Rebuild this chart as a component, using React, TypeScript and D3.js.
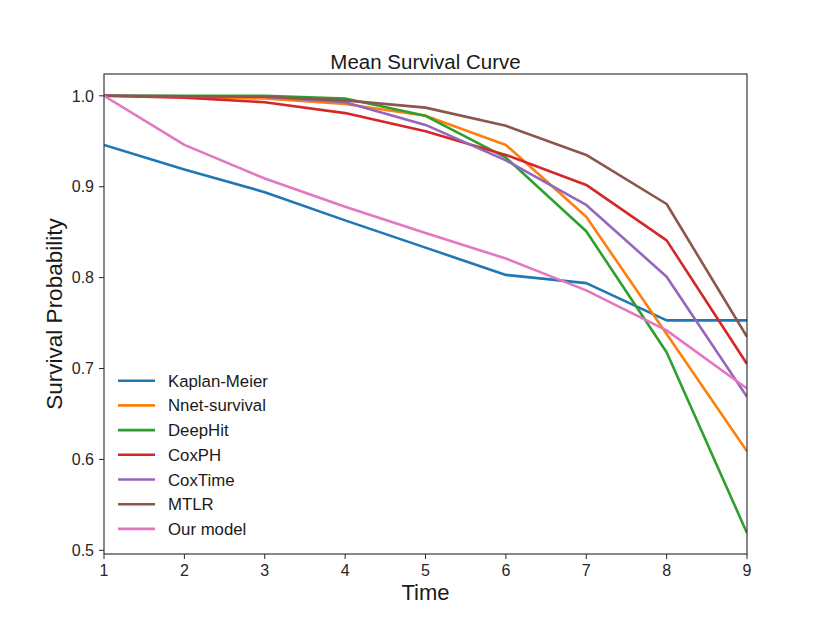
import React from 'react'
import * as d3 from 'd3'

// time points on the x axis
const times = [1, 2, 3, 4, 5, 6, 7, 8, 9]

const kaplanMeier = [0.946, 0.919, 0.894, 0.863, 0.833, 0.803, 0.794, 0.753, 0.753]
const nnetSurvival = [1.0, 0.999, 0.997, 0.991, 0.978, 0.946, 0.867, 0.738, 0.609]
const deepHit = [1.0, 1.0, 1.0, 0.997, 0.978, 0.932, 0.851, 0.718, 0.519]
const coxPH = [1.0, 0.998, 0.993, 0.981, 0.961, 0.935, 0.902, 0.841, 0.705]
const coxTime = [1.0, 0.9995, 0.999, 0.993, 0.968, 0.929, 0.88, 0.801, 0.669]
const mtlr = [1.0, 0.9995, 0.999, 0.995, 0.987, 0.967, 0.935, 0.881, 0.735]
const ourModel = [1.0, 0.946, 0.909, 0.878, 0.849, 0.821, 0.786, 0.742, 0.678]

const seriesNames = ['Kaplan-Meier', 'Nnet-survival', 'DeepHit', 'CoxPH', 'CoxTime', 'MTLR', 'Our model']
const seriesValues = [kaplanMeier, nnetSurvival, deepHit, coxPH, coxTime, mtlr, ourModel]

const yTicks = [0.5, 0.6, 0.7, 0.8, 0.9, 1.0]

const W = 830
const H = 623
const margin = {left: 104, right: 83, top: 74, bottom: 69}
const font = '"Liberation Sans", Arial, sans-serif'

function App() {
  const x = d3.scaleLinear().domain([1, 9]).range([margin.left, W - margin.right])
  const y = d3.scaleLinear().domain([0.496, 1.024]).range([H - margin.bottom, margin.top])
  const color = d3.scaleOrdinal<string, string>().domain(seriesNames).range(d3.schemeCategory10)

  const line = d3
    .line<number>()
    .x((d, i) => x(times[i]))
    .y(d => y(d))

  const [x0, x1] = x.range()
  const [y0, y1] = y.range()

  return (
    <div style={{position: 'absolute', left: 0, top: 0}}>
      <svg width={W} height={H} style={{display: 'block', background: '#fff'}} fontFamily={font}>
        <defs>
          <clipPath id="plot-clip">
            <rect x={x0} y={y1} width={x1 - x0} height={y0 - y1} />
          </clipPath>
        </defs>

        <g clipPath="url(#plot-clip)">
          {seriesValues.map((vals, i) => (
            <path
              key={seriesNames[i]}
              d={line(vals) || ''}
              fill="none"
              stroke={color(seriesNames[i])}
              strokeWidth={2.6}
              strokeLinejoin="round"
            />
          ))}
        </g>

        {/* frame */}
        <rect x={x0} y={y1} width={x1 - x0} height={y0 - y1} fill="none" stroke="#262626" strokeWidth={1.1} />

        {/* x ticks */}
        {times.map(t => (
          <g key={t} transform={`translate(${x(t)},${y0})`}>
            <line y1={0} y2={5} stroke="#262626" strokeWidth={1} />
            <text y={22} textAnchor="middle" fontSize={16} fill="#262626">
              {t}
            </text>
          </g>
        ))}

        {/* y ticks */}
        {yTicks.map(v => (
          <g key={v} transform={`translate(${x0},${y(v)})`}>
            <line x1={0} x2={-5} stroke="#262626" strokeWidth={1} />
            <text x={-10} dy="0.36em" textAnchor="end" fontSize={16} fill="#262626">
              {d3.format('.1f')(v)}
            </text>
          </g>
        ))}

        <text x={(x0 + x1) / 2} y={69} textAnchor="middle" fontSize={20.5} fill="#1a1a1a">
          Mean Survival Curve
        </text>
        <text x={(x0 + x1) / 2} y={600} textAnchor="middle" fontSize={22} fill="#1a1a1a">
          Time
        </text>
        <text
          transform={`translate(62,${(y0 + y1) / 2}) rotate(-90)`}
          textAnchor="middle"
          fontSize={22.5}
          fill="#1a1a1a">
          Survival Probability
        </text>

        {/* legend */}
        {seriesNames.map((name, i) => (
          <g key={name} transform={`translate(118,${380.7 + i * 24.7})`}>
            <line x1={0} x2={37} stroke={color(name)} strokeWidth={2.6} />
            <text x={50} dy="0.36em" fontSize={16.8} fill="#1a1a1a">
              {name}
            </text>
          </g>
        ))}
      </svg>
    </div>
  )
}

export default App
